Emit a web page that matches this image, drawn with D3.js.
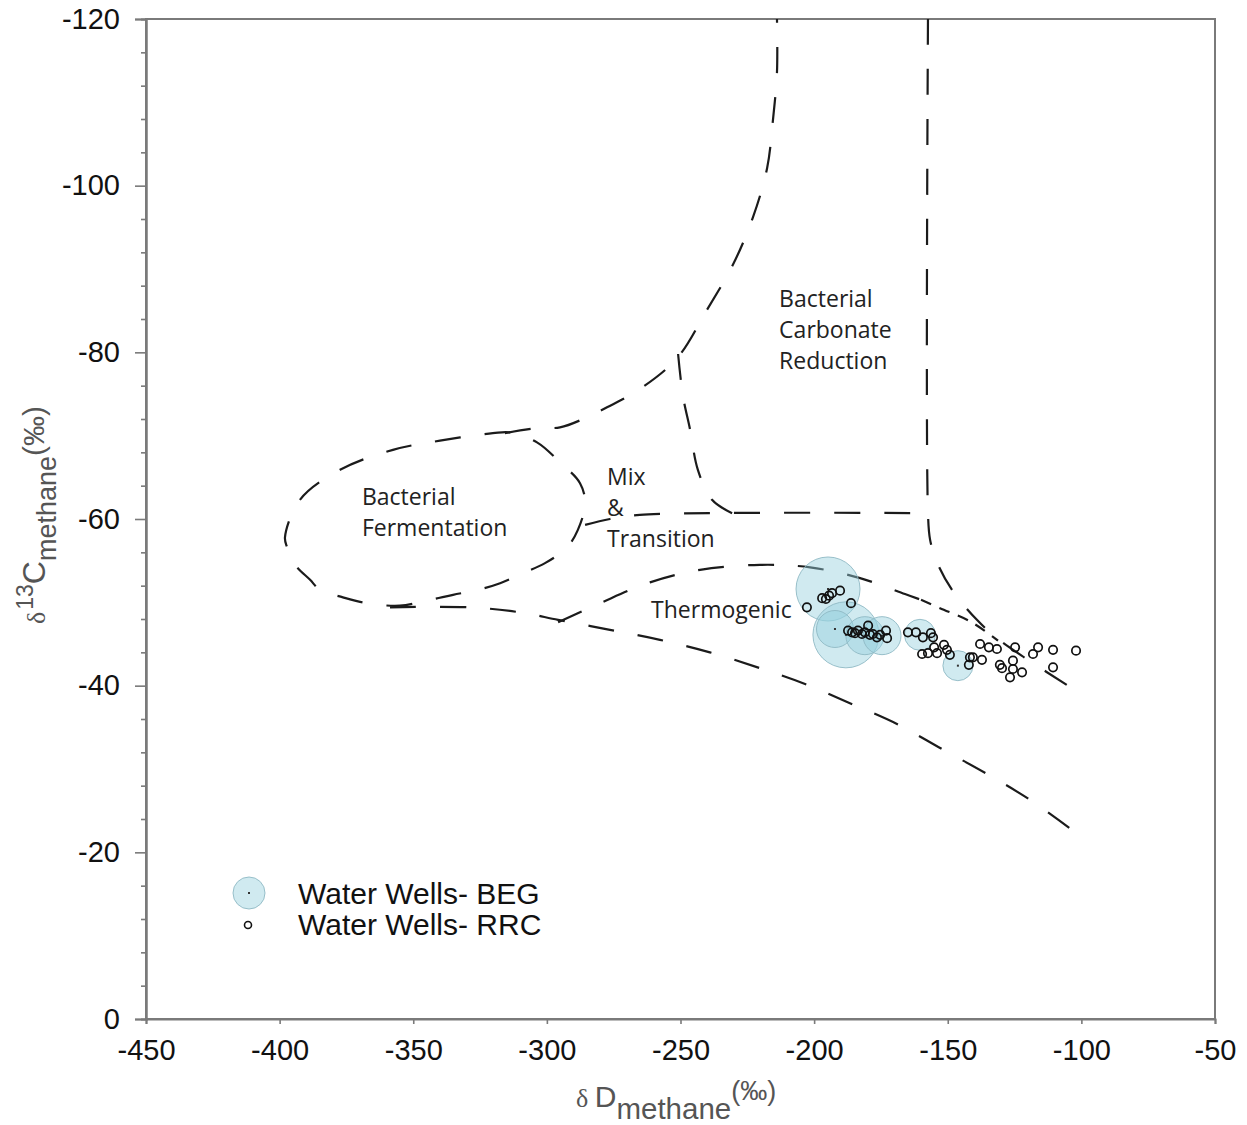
<!DOCTYPE html>
<html>
<head>
<meta charset="utf-8">
<script src="https://cdn.jsdelivr.net/npm/d3@7"></script>
<style>
  body { margin: 0; background: #fff; }
  svg { display: block; }
</style>
</head>
<body>
<svg id="chart" width="1247" height="1125"></svg>
<script>
// ---- axes ----
const xTicks = [-450, -400, -350, -300, -250, -200, -150, -100, -50];
const yTicks = [-120, -100, -80, -60, -40, -20, 0];

// ---- Water Wells - BEG (dD, d13C, relative bubble size) ----
const begD    = [-194.8, -188.1, -192.2, -181.0, -174.6, -160.4, -146.2];
const begC    = [ -51.6,  -46.1,  -46.8,  -46.0,  -46.0,  -46.1,  -42.4];
const begSize = [  83.6,   88.9,   27.9,   29.5,   29.5,   19.6,   18.4];

// ---- Water Wells - RRC (dD, d13C) ----
const rrcD = [-202.7, -197.0, -195.6, -194.4, -193.3, -190.3, -186.2,
              -187.3, -185.8, -184.7, -183.6, -182.1, -181.0, -179.8, -179.1, -178.0, -176.5, -175.3, -173.1, -172.7,
              -164.9, -161.9, -159.3, -156.3, -155.5,
              -159.6, -157.4, -155.1, -154.0, -151.4, -150.3, -149.2,
              -141.7, -140.6, -142.1, -137.2,
              -137.9, -134.6, -131.6, -124.8, -125.6, -130.5, -129.7, -126.7, -122.2, -125.6, -116.2, -118.1, -110.6, -110.6, -102.0];
const rrcC = [ -49.4,  -50.5,  -50.4,  -50.8,  -51.1,  -51.4,  -49.9,
               -46.6,  -46.4,  -46.3,  -46.6,  -46.2,  -46.4,  -47.2,  -46.1,  -46.2,  -45.8,  -46.1,  -46.6,  -45.7,
               -46.4,  -46.4,  -45.8,  -46.3,  -45.8,
               -43.8,  -43.9,  -44.6,  -43.9,  -44.9,  -44.3,  -43.7,
               -43.4,  -43.4,  -42.5,  -43.1,
               -45.0,  -44.6,  -44.4,  -44.6,  -43.0,  -42.5,  -42.1,  -41.0,  -41.6,  -42.0,  -44.6,  -43.8,  -44.3,  -42.2,  -44.2];

// ---- genetic field boundaries [dD, d13C] ----
const fermentationLoop = [[-398.0,-57.8],[-392.4,-62.3],[-377.4,-65.9],[-357.6,-68.3],[-340.0,-69.4],[-320.2,-70.3],
  [-313.8,-70.4],[-303.7,-69.2],[-295.1,-66.8],[-287.6,-64.3],[-285.7,-61.9],[-288.4,-58.7],[-292.5,-56.6],
  [-300.7,-54.7],[-308.9,-53.5],[-317.5,-52.3],[-325.8,-51.5],[-335.1,-50.9],[-343.7,-50.3],[-355.0,-49.6],
  [-367.3,-49.9],[-376.3,-50.6],[-384.9,-51.5],[-388.6,-52.7],[-394.2,-54.5],[-397.2,-56.6]];
const carbonateLeft = [[-315.7,-70.3],[-303.7,-70.9],[-295.1,-71.0],[-285.7,-72.1],[-277.5,-73.4],[-265.2,-75.6],
  [-251.3,-79.3],[-240.1,-85.1],[-230.4,-90.5],[-222.9,-96.2],[-217.6,-102.1],[-215.4,-107.9],[-213.9,-113.6],[-213.9,-120]];
const mixRight = [[-250.9,-79.8],[-249.1,-74.8],[-246.4,-70.7],[-243.5,-65.9],[-238.2,-62.3],[-230.7,-60.7]];
const mixFloor = [[-285.7,-59.3],[-276.4,-60.0],[-265.2,-60.5],[-157.4,-60.7]];
const carbonateRight = [[-157.4,-120],[-157.4,-60.7],[-156.6,-57.5],[-154.0,-54.8],[-148.4,-51.5],[-139.1,-47.9],
  [-130.8,-45.5],[-120.0,-43.1],[-103.5,-39.7]];
const thermoUpper = [[-295.8,-47.6],[-280.1,-49.9],[-261.4,-52.4],[-242.7,-53.9],[-220.3,-54.5],[-201.5,-54.2],
  [-182.8,-52.9],[-166.0,-51.0],[-160.0,-50.3]];
const thermoUpperTail = [[-160.0,-50.3],[-152.9,-49.3],[-141.0,-47.6],[-131.2,-45.4]];
const thermoLower = [[-358.7,-49.4],[-328.8,-49.4],[-310.1,-48.8],[-295.8,-47.9],[-276.4,-46.7],[-257.7,-45.5],
  [-239.0,-44.0],[-220.3,-42.1],[-203.4,-40.2],[-186.6,-37.9],[-169.0,-35.4],[-152.2,-32.4],[-135.3,-29.4],
  [-119.2,-26.3],[-103.5,-22.7]];

// ---- field names ----
const fieldNames = [
  { lines: ["Bacterial", "Fermentation"], d: -369.2, c: -62.8 },
  { lines: ["Mix", "&", "Transition"], d: -277.5, c: -65.2 },
  { lines: ["Bacterial", "Carbonate", "Reduction"], d: -213.1, c: -86.5 },
  { lines: ["Thermogenic"], d: -261.0, c: -49.2 }
];

const legendItems = ["Water Wells- BEG", "Water Wells- RRC"];

// ---------------------------------------------------------------
const svg = d3.select("#chart");
const plot = { left: 146, right: 1215, top: 19, bottom: 1019 };

const x = d3.scaleLinear().domain([-450, -50]).range([plot.left, plot.right]);
const y = d3.scaleLinear().domain([-120, 0]).range([plot.top, plot.bottom]);
const r = d3.scaleSqrt().domain([0, 100]).range([0, 35]);

const axisColor = "#7a7a7a";
const sans = "'Liberation Sans', Arial, sans-serif";
const serif = "'Liberation Serif', serif";
const labelFont = "'Open Sans', 'Noto Sans', sans-serif";

// frame
svg.append("rect")
  .attr("x", plot.left).attr("y", plot.top)
  .attr("width", plot.right - plot.left).attr("height", plot.bottom - plot.top)
  .attr("fill", "none").attr("stroke", axisColor).attr("stroke-width", 2);

// y axis: major + minor ticks
const yMinor = d3.range(-120, 0, 4).filter(v => v % 20 !== 0);
const yMinorAxis = svg.append("g").attr("transform", `translate(${plot.left},0)`)
  .call(d3.axisLeft(y).tickValues(yMinor).tickSize(5).tickFormat(""));
const fmt = v => String(v);
const yAxis = svg.append("g").attr("transform", `translate(${plot.left},0)`)
  .call(d3.axisLeft(y).tickValues(yTicks).tickSize(11).tickPadding(15).tickFormat(fmt));

// x axis
const xAxis = svg.append("g").attr("transform", `translate(0,${plot.bottom})`)
  .call(d3.axisBottom(x).tickValues(xTicks).tickSize(5).tickPadding(15).tickFormat(fmt));

[yMinorAxis, yAxis, xAxis].forEach(g => {
  g.select(".domain").attr("stroke", axisColor).attr("stroke-width", 2);
  g.selectAll(".tick line").attr("stroke", axisColor).attr("stroke-width", 1.6);
  g.selectAll(".tick text").attr("fill", "#111").attr("font-family", sans).attr("font-size", 29);
});

// boundaries
const line = d3.line().x(d => x(d[0])).y(d => y(d[1])).curve(d3.curveCatmullRom.alpha(0.5));
const loop = d3.line().x(d => x(d[0])).y(d => y(d[1])).curve(d3.curveCatmullRomClosed.alpha(0.5));
const bounds = svg.append("g").attr("fill", "none").attr("stroke", "#1b1b1b").attr("stroke-width", 2.2);
bounds.append("path").attr("d", loop(fermentationLoop)).attr("stroke-dasharray", "26 24");
[carbonateLeft, mixRight, mixFloor, carbonateRight, thermoUpper, thermoLower].forEach(pts =>
  bounds.append("path").attr("d", line(pts)).attr("stroke-dasharray", "26 24"));
bounds.append("path").attr("d", line(thermoUpperTail)).attr("stroke-dasharray", "11 9");

// field names
const names = svg.append("g").attr("font-family", labelFont).attr("font-size", 23).attr("fill", "#222");
fieldNames.forEach(f => {
  f.lines.forEach((t, i) => {
    names.append("text").attr("x", x(f.d)).attr("y", y(f.c) + i * 31)
      .attr("dominant-baseline", "central").text(t);
  });
});

// BEG bubbles
const beg = begD.map((d, i) => ({ d, c: begC[i], s: begSize[i] }));
const bubbleFill = "rgba(151,208,222,0.45)";
const bubbleStroke = "#8fb9c4";
const bg = svg.append("g");
bg.selectAll("circle").data(beg).join("circle")
  .attr("cx", d => x(d.d)).attr("cy", d => y(d.c)).attr("r", d => r(d.s))
  .attr("fill", bubbleFill).attr("stroke", bubbleStroke).attr("stroke-width", 0.9);
bg.selectAll("rect").data(beg).join("rect")
  .attr("x", d => x(d.d) - 1).attr("y", d => y(d.c) - 1).attr("width", 2).attr("height", 2)
  .attr("fill", "#333");

// RRC points
const rrc = rrcD.map((d, i) => ({ d, c: rrcC[i] }));
svg.append("g").selectAll("circle").data(rrc).join("circle")
  .attr("cx", d => x(d.d)).attr("cy", d => y(d.c)).attr("r", 4.2)
  .attr("fill", "none").attr("stroke", "#111").attr("stroke-width", 1.7);

// legend
const lg = svg.append("g");
lg.append("circle").attr("cx", 249).attr("cy", 893).attr("r", 16)
  .attr("fill", bubbleFill).attr("stroke", bubbleStroke).attr("stroke-width", 0.9);
lg.append("rect").attr("x", 248).attr("y", 892).attr("width", 2).attr("height", 2).attr("fill", "#333");
lg.append("circle").attr("cx", 248).attr("cy", 925).attr("r", 3.5)
  .attr("fill", "none").attr("stroke", "#111").attr("stroke-width", 1.6);
legendItems.forEach((t, i) => {
  lg.append("text").attr("x", 298).attr("y", 893 + i * 31).attr("dominant-baseline", "central")
    .attr("font-family", sans).attr("font-size", 30).attr("fill", "#111").text(t);
});

// axis titles
const titleColor = "#555";
const yt = svg.append("text")
  .attr("transform", "translate(45,515) rotate(-90)")
  .attr("text-anchor", "middle").attr("fill", titleColor).attr("font-family", sans);
yt.append("tspan").attr("font-family", serif).attr("font-size", 26).text("δ");
yt.append("tspan").attr("font-size", 23).attr("dy", -12).attr("dx", 2).text("13");
yt.append("tspan").attr("font-size", 32).attr("dy", 12).text("C");
yt.append("tspan").attr("font-size", 27).attr("dy", 11).text("methane");
yt.append("tspan").attr("font-size", 30).attr("dy", -12).text("(‰)");

const xt = svg.append("text")
  .attr("x", 576).attr("y", 1107).attr("fill", titleColor).attr("font-family", sans);
xt.append("tspan").attr("font-family", serif).attr("font-size", 26).text("δ ");
xt.append("tspan").attr("font-size", 30).text("D");
xt.append("tspan").attr("font-size", 29.5).attr("dy", 12).text("methane");
xt.append("tspan").attr("font-size", 27).attr("dy", -19).text("(‰)");
</script>
</body>
</html>
